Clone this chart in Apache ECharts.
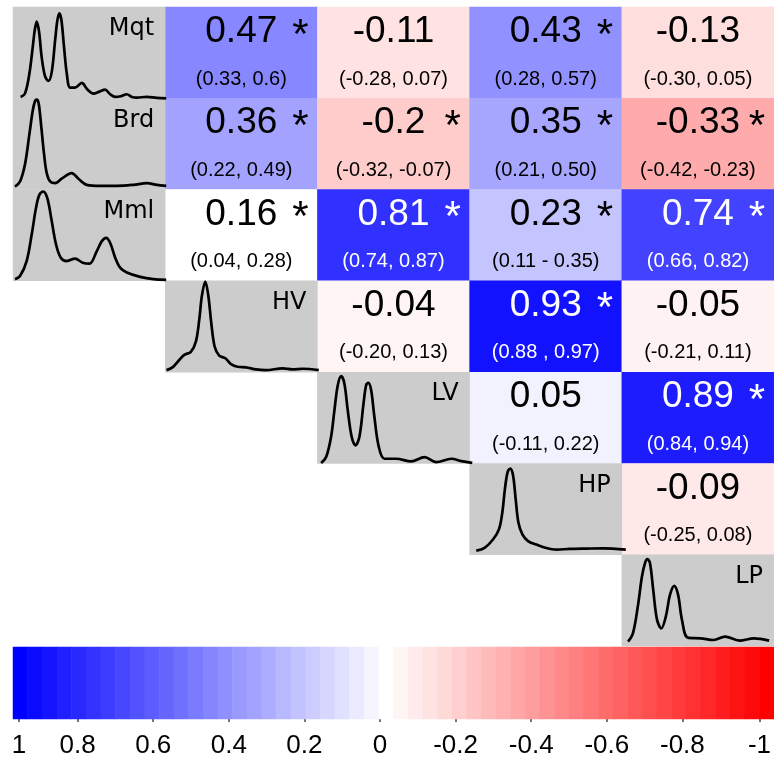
<!DOCTYPE html>
<html>
<head>
<meta charset="utf-8">
<script src="https://cdn.jsdelivr.net/npm/echarts@6/dist/echarts.min.js"></script>
<style>
html,body{margin:0;padding:0;background:#fff;}
#main{width:774px;height:759px;}
</style>
</head>
<body>
<div id="main"></div>
<script>
// ---------------- DATA ----------------
const xCats = ['Mqt|Brd|Mml', 'HV', 'LV', 'HP', 'LP'];
const rowVars = ['Mqt', 'Brd', 'Mml', 'HV', 'LV', 'HP', 'LP'];
const diagCol = ['Mqt|Brd|Mml', 'Mqt|Brd|Mml', 'Mqt|Brd|Mml', 'HV', 'LV', 'HP', 'LP'];

const corrRowVar = ['Mqt','Mqt','Mqt','Mqt','Brd','Brd','Brd','Brd','Mml','Mml','Mml','Mml','HV','HV','HV','LV','LV','HP'];
const corrColVar = ['HV','LV','HP','LP','HV','LV','HP','LP','HV','LV','HP','LP','LV','HP','LP','HP','LP','LP'];
const corrValue  = [0.47,-0.11,0.43,-0.13,0.36,-0.2,0.35,-0.33,0.16,0.81,0.23,0.74,-0.04,0.93,-0.05,0.05,0.89,-0.09];
// cell shading (Mml–HV cell is drawn white)
const corrShade  = [0.47,-0.11,0.43,-0.13,0.36,-0.2,0.35,-0.33,0,0.81,0.23,0.74,-0.04,0.93,-0.05,0.05,0.89,-0.09];
const corrCI = ['(0.33, 0.6)','(-0.28, 0.07)','(0.28, 0.57)','(-0.30, 0.05)',
                '(0.22, 0.49)','(-0.32, -0.07)','(0.21, 0.50)','(-0.42, -0.23)',
                '(0.04, 0.28)','(0.74, 0.87)','(0.11 - 0.35)','(0.66, 0.82)',
                '(-0.20, 0.13)','(0.88 , 0.97)','(-0.21, 0.11)',
                '(-0.11, 0.22)','(0.84, 0.94)',
                '(-0.25, 0.08)'];
const corrSig = [true,false,true,false,true,true,true,true,true,true,true,true,false,true,false,false,true,false];

const colorbarValues = [1,0.96,0.92,0.88,0.84,0.8,0.76,0.72,0.68,0.64,0.6,0.56,0.52,0.48,0.44,0.4,0.36,0.32,0.28,0.24,0.2,0.16,0.12,0.08,0.04,0,
  -0.038,-0.077,-0.115,-0.154,-0.192,-0.231,-0.269,-0.308,-0.346,-0.385,-0.423,-0.462,-0.5,-0.538,-0.577,-0.615,-0.654,-0.692,-0.731,-0.769,-0.808,-0.846,-0.885,-0.923,-0.962,-1];

// density curves: [position % of range, density % of max]
const densMqt = [[5.0,1.5],[7.8,5.1],[10.7,27.1],[12.9,56.4],[14.2,74.7],[15.5,83.9],[17.0,72.9],[18.7,45.4],[20.9,24.2],[23.1,19.0],[25.3,28.9],[27.5,63.7],[29.0,85.7],[30.3,93.0],[31.6,85.7],[33.3,56.4],[35.1,27.1],[37.3,11.7],[40.5,11.7],[44.9,16.8],[48.6,9.5],[52.5,5.1],[56.4,7.3],[60.1,9.5],[63.4,4.4],[66.7,1.5],[70.4,2.2],[74.3,4.4],[77.6,1.5],[80.8,0.7],[87.4,1.5],[93.9,0.4],[100,0]];
const densBrd = [[1.3,3.3],[4.6,8.9],[7.8,27.4],[10.7,60.7],[12.9,86.7],[14.4,97.0],[15.5,98.5],[16.8,94.1],[18.5,68.1],[20.3,38.5],[22.0,18.1],[24.2,8.9],[27.5,7.0],[31.8,11.9],[38.3,18.1],[42.7,11.9],[48.1,5.2],[56.9,4.1],[67.8,4.1],[78.6,5.2],[87.4,7.0],[93.9,5.2],[100,4.1]];
const densMml = [[1.3,1.8],[4.6,5.4],[8.9,21.7],[12.2,50.7],[15.0,79.7],[17.2,94.2],[19.8,97.8],[22.4,90.6],[25.3,65.2],[28.1,39.9],[31.2,25.4],[35.1,21.7],[40.5,24.3],[45.5,19.9],[49.9,18.8],[54.7,32.6],[58.0,43.5],[60.8,47.1],[63.4,41.7],[66.7,25.4],[69.9,14.5],[74.3,9.1],[83.0,4.3],[91.7,1.8],[100,1.1]];
const densHV = [[0.2,2.2],[4.1,5.2],[8.5,13.3],[11.8,18.9],[16.1,22.2],[19.4,33.7],[21.6,57.8],[23.3,83.7],[25.5,99.3],[27.5,83.7],[29.4,54.1],[31.6,28.1],[34.6,18.1],[38.6,15.2],[42.3,8.9],[46.6,5.9],[52.1,5.2],[58.6,3.0],[65.1,2.2],[76.0,4.1],[82.6,3.0],[89.1,3.7],[99.6,2.2]];
const densLV = [[1.1,0.4],[4.4,7.0],[7.6,28.9],[9.8,58.2],[12.0,85.7],[14.2,95.6],[16.3,87.5],[18.5,58.2],[21.1,28.9],[23.5,19.8],[26.1,28.9],[28.8,65.6],[30.5,85.7],[32.0,88.3],[33.8,80.2],[35.9,50.9],[38.8,17.9],[42.5,5.1],[50.1,5.1],[59.9,2.2],[68.6,7.0],[76.3,1.5],[86.1,5.1],[92.6,2.6],[99.8,0.7]];
const densHP = [[2.4,4.4],[7.8,7.4],[13.3,16.7],[17.2,27.8],[19.4,46.3],[21.1,72.2],[22.9,90.7],[24.6,94.4],[26.4,87.0],[28.1,61.1],[29.9,35.2],[32.5,22.2],[36.2,14.8],[41.6,11.1],[48.1,7.4],[54.7,5.6],[63.4,6.3],[74.3,6.7],[85.2,7.0],[100,5.6]];
const densLP = [[1.5,4.8],[4.8,13.9],[8.1,43.2],[10.9,76.2],[13.1,91.6],[14.6,95.2],[16.3,90.8],[18.5,61.5],[21.1,28.6],[24.0,19.4],[27.0,32.2],[29.8,56.0],[32.7,65.9],[35.3,56.0],[37.9,28.6],[41.8,9.2],[50.5,8.4],[59.3,6.6],[66.9,10.3],[76.7,5.9],[86.5,8.4],[96.7,5.9]];
const densities = {Mqt: densMqt, Brd: densBrd, Mml: densMml, HV: densHV, LV: densLV, HP: densHP, LP: densLP};

// ---------------- LAYOUT ----------------
const G = {left: 13, top: 7, width: 766, height: 639};
const colW = G.width / xCats.length;
const rowH = G.height / rowVars.length;
const NUM_FONT = '"Liberation Sans", Arial, Helvetica, sans-serif';

const chart = echarts.init(document.getElementById('main'), null, {renderer: 'canvas'});

const corrData = corrValue.map((v, i) => [xCats.indexOf(corrColVar[i]), rowVars.indexOf(corrRowVar[i]), corrShade[i]]);
const greyData = rowVars.map((v, i) => [xCats.indexOf(diagCol[i]), i, 0]);
const textData = corrValue.map((v, i) => [xCats.indexOf(corrColVar[i]), rowVars.indexOf(corrRowVar[i])]);
const labelData = rowVars.map((v, i) => [xCats.indexOf(diagCol[i]), i]);

const tickAxisCommon = {
  axisLine: {show: false}, splitLine: {show: false},
  axisTick: {show: true, length: 9, lineStyle: {color: '#444', width: 1.5}},
  axisLabel: {fontSize: 26, color: '#000', margin: 20, fontFamily: NUM_FONT}
};

const grids = [
  {left: G.left, top: G.top, width: G.width, height: G.height},
  {left: 13, top: 647, width: 768, height: 72},
  {left: 77.6, top: 647, width: 604.8, height: 72},
  {left: 19, top: 647, width: 755, height: 72}
];
const xAxes = [
  {gridIndex: 0, type: 'category', data: xCats, show: false},
  {gridIndex: 1, type: 'category', data: colorbarValues.map(String), show: false},
  Object.assign({gridIndex: 2, type: 'value', min: -0.8, max: 0.8, interval: 0.2, inverse: true}, tickAxisCommon),
  Object.assign({gridIndex: 3, type: 'value', min: -1, max: 1, interval: 2, inverse: true}, tickAxisCommon)
];
const yAxes = [
  {gridIndex: 0, type: 'category', data: rowVars, inverse: true, show: false},
  {gridIndex: 1, type: 'category', data: ['scale'], show: false},
  {gridIndex: 2, type: 'value', show: false},
  {gridIndex: 3, type: 'value', show: false}
];

const series = [
  {type: 'heatmap', xAxisIndex: 0, yAxisIndex: 0, data: corrData, emphasis: {disabled: true}, silent: true},
  {type: 'heatmap', xAxisIndex: 0, yAxisIndex: 0, data: greyData, itemStyle: {color: '#CCCCCC'}, emphasis: {disabled: true}, silent: true},
  {type: 'heatmap', xAxisIndex: 1, yAxisIndex: 1, data: colorbarValues.map((v, i) => [i, 0, v]), emphasis: {disabled: true}, silent: true},
  {
    type: 'custom', xAxisIndex: 0, yAxisIndex: 0, data: textData, silent: true,
    renderItem: function (params, api) {
      const i = params.dataIndex;
      const c = api.coord([api.value(0), api.value(1)]);
      const s = api.size([1, 1]);
      const top = c[1] - s[1] / 2;
      const right = c[0] + s[0] / 2;
      const col = corrShade[i] > 0.6 ? '#FFFFFF' : '#000000';
      const children = [
        {type: 'text', x: c[0], y: top + 25, style: {text: String(corrValue[i]), fill: col, fontSize: 37, fontFamily: NUM_FONT, align: 'center', verticalAlign: 'middle'}},
        {type: 'text', x: c[0], y: top + 72, style: {text: corrCI[i], fill: col, fontSize: 20, fontFamily: NUM_FONT, align: 'center', verticalAlign: 'middle'}}
      ];
      if (corrSig[i]) {
        children.push({type: 'text', x: right - 17, y: top + 29, style: {text: '*', fill: col, fontSize: 42, fontFamily: NUM_FONT, align: 'center', verticalAlign: 'middle'}});
      }
      return {type: 'group', children: children};
    }
  },
  {
    type: 'custom', xAxisIndex: 0, yAxisIndex: 0, data: labelData, silent: true,
    renderItem: function (params, api) {
      const i = params.dataIndex;
      const c = api.coord([api.value(0), api.value(1)]);
      const s = api.size([1, 1]);
      return {type: 'text', x: c[0] + s[0] / 2 - 11, y: c[1] - s[1] / 2 + 22,
        style: {text: rowVars[i], fill: '#000', fontSize: 24, fontFamily: '"DejaVu Sans", sans-serif', align: 'right', verticalAlign: 'middle'}};
    }
  }
];

rowVars.forEach((v, i) => {
  const col = xCats.indexOf(diagCol[i]);
  const gi = grids.length;
  grids.push({left: G.left + col * colW, top: G.top + i * rowH, width: colW, height: rowH});
  xAxes.push({gridIndex: gi, type: 'value', min: 0, max: 100, show: false});
  yAxes.push({gridIndex: gi, type: 'value', min: 0, max: 100, show: false});
  series.push({type: 'line', xAxisIndex: gi, yAxisIndex: gi, data: densities[v], smooth: 0.35,
    showSymbol: false, symbol: 'none', clip: false, silent: true,
    lineStyle: {color: '#000', width: 2.7}});
});

chart.setOption({
  animation: false,
  backgroundColor: '#FFFFFF',
  grid: grids,
  xAxis: xAxes,
  yAxis: yAxes,
  visualMap: {
    type: 'continuous', show: false, min: -1, max: 1, dimension: 2, seriesIndex: [0, 2],
    inRange: {color: ['#FF0000', '#FFFFFF', '#0000FF']}
  },
  series: series
});
</script>
</body>
</html>
